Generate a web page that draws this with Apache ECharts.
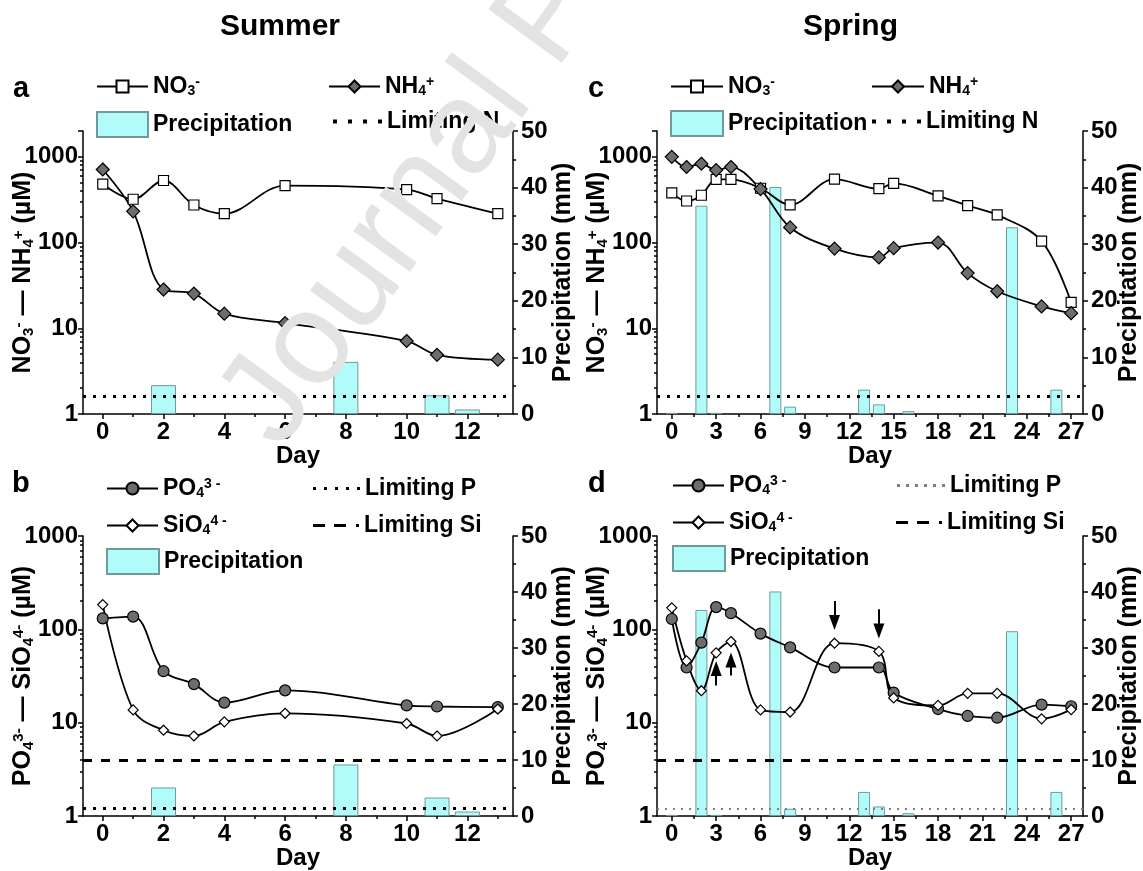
<!DOCTYPE html>
<html>
<head>
<meta charset="utf-8">
<script src="https://cdn.jsdelivr.net/npm/echarts@6/dist/echarts.min.js"></script>
<style>
  html, body { margin: 0; background: #fff; }
  #chart { width: 1143px; height: 871px; }
</style>
</head>
<body>
<div id="chart"></div>
<script>
// ---- data ----
// Summer campaign (panels a, b)
const SUMMER_DAYS = [0, 1, 2, 3, 4, 6, 10, 11, 13];
const SUMMER_NO3  = [479, 320, 529, 274, 217, 462, 415, 326, 217];
const SUMMER_NH4  = [711, 231, 28.3, 25.4, 14.8, 11.5, 7.1, 4.9, 4.3];
const SUMMER_PO4  = [131, 137, 35.6, 25.9, 16.4, 22.2, 15.3, 14.9, 14.7];
const SUMMER_SIO4 = [184, 13.7, 8.3, 7.2, 10.2, 12.6, 9.8, 7.2, 14.0];
const SUMMER_RAIN_DAYS = [2, 8, 11, 12];
const SUMMER_RAIN      = [5.1, 9.2, 3.3, 0.8];

// Spring campaign (panels c, d)
const SPRING_DAYS = [0, 1, 2, 3, 4, 6, 8, 11, 14, 15, 18, 20, 22, 25, 27];
const SPRING_NO3  = [380, 305, 356, 546, 545, 430, 275, 550, 425, 490, 350, 270, 210, 104, 20];
const SPRING_NH4  = [1000, 760, 830, 700, 760, 420, 150, 85, 67, 86, 100, 44, 27, 18, 15];
const SPRING_PO4  = [129, 39, 72, 173, 149, 90, 64, 39, 39, 21, 14, 11.8, 11.3, 15.6, 15];
const SPRING_SIO4 = [170, 46, 22, 56, 74, 13.7, 13, 71, 58, 18.4, 15.3, 20.6, 20.6, 11, 13.8];
const SPRING_RAIN_DAYS = [0, 2, 3, 7, 8, 13, 14, 16, 23, 26];
const SPRING_RAIN      = [0.2, 36.8, 0.2, 40.1, 1.3, 4.3, 1.7, 0.5, 33, 4.3];

// limiting concentrations (µM)
const LIMIT_N = 1.6;
const LIMIT_P = 1.2;
const LIMIT_SI = 4.0;

// arrows in panel d: day, tail value, head value (µM)
const ARROW_DAYS  = [3, 4, 11, 14];
const ARROW_TAILS = [25, 32, 201, 164];
const ARROW_HEADS = [38, 47, 118, 96];

// tick values
const SUMMER_TICKS = [0, 2, 4, 6, 8, 10, 12];
const SUMMER_MINOR = [1, 3, 5, 7, 9, 11, 13];
const SPRING_TICKS = [0, 3, 6, 9, 12, 15, 18, 21, 24, 27];
const SPRING_MINOR = [1.5, 4.5, 7.5, 10.5, 13.5, 16.5, 19.5, 22.5, 25.5];
const LOG_LABELS = [1, 10, 100, 1000];
const LOG_MINOR = [2, 3, 4, 5, 6, 7, 8, 9, 20, 30, 40, 50, 60, 70, 80, 90,
                   200, 300, 400, 500, 600, 700, 800, 900, 2000];

// ---- styling ----
const FONT = '"Liberation Sans", Arial, Helvetica, sans-serif';
const CYAN = '#b2fbfb';
const CYAN_EDGE = '#6f9a9a';
const GREY = '#6d6d6d';
const AXIS = { color: '#000', width: 1.5 };

const txt = size => ({ fontFamily: FONT, fontWeight: 'bold', fontSize: size, color: '#000' });
const rich = size => ({
    b:   txt(size),
    sub: Object.assign(txt(Math.round(size * 0.6)), { verticalAlign: 'bottom' }),
    sup: Object.assign(txt(Math.round(size * 0.6)), { verticalAlign: 'top' }),
});

const N_NAME   = '{b|NO}{sub|3}{sup|-}{b| — NH}{sub|4}{sup|+}{b| (µM)}';
const PSI_NAME = '{b|PO}{sub|4}{sup|3-}{b| — SiO}{sub|4}{sup|4-}{b| (µM)}';

const LABELS = {
    'NO3 a': '{b|NO}{sub|3}{sup|-}', 'NH4 a': '{b|NH}{sub|4}{sup|+}',
    'Rain a': '{b|Precipitation}', 'LimN a': '{b|Limiting N}',
    'PO4 b': '{b|PO}{sub|4}{sup|3 -}', 'SiO4 b': '{b|SiO}{sub|4}{sup|4 -}',
    'Rain b': '{b|Precipitation}', 'LimP b': '{b|Limiting P}', 'LimSi b': '{b|Limiting Si}',
    'NO3 c': '{b|NO}{sub|3}{sup|-}', 'NH4 c': '{b|NH}{sub|4}{sup|+}',
    'Rain c': '{b|Precipitation}', 'LimN c': '{b|Limiting N}',
    'PO4 d': '{b|PO}{sub|4}{sup|3 -}', 'SiO4 d': '{b|SiO}{sub|4}{sup|4 -}',
    'Rain d': '{b|Precipitation}', 'LimP d': '{b|Limiting P}', 'LimSi d': '{b|Limiting Si}',
};

// dotted / dashed legend keys
const DOTS4  = 'path://M0,0h4v4h-4zM15,0h4v4h-4zM30,0h4v4h-4zM45,0h4v4h-4z';
const DOTS5  = 'path://M0,0h3v3h-3zM11,0h3v3h-3zM22,0h3v3h-3zM33,0h3v3h-3zM44,0h3v3h-3z';
const DOTS6  = 'path://M0,0h3v3h-3zM9,0h3v3h-3zM18,0h3v3h-3zM27,0h3v3h-3zM36,0h3v3h-3zM45,0h3v3h-3z';
const DASHES = 'path://M0,0h12v3h-12zM21,0h12v3h-12zM43,0h3v3h-3z';

const PANELS = [
    { grid: { left: 83,  top: 131, width: 430, height: 283 }, xr: [-0.65, 13.5], ticks: SUMMER_TICKS, minor: SUMMER_MINOR, ymax: 2000, name: N_NAME,   rgap: 38 },
    { grid: { left: 83,  top: 536, width: 430, height: 283 }, xr: [-0.65, 13.5], ticks: SUMMER_TICKS, minor: SUMMER_MINOR, ymax: 1000, name: PSI_NAME, rgap: 38 },
    { grid: { left: 657, top: 131, width: 426, height: 283 }, xr: [-1, 27.8],    ticks: SPRING_TICKS, minor: SPRING_MINOR, ymax: 2000, name: N_NAME,   rgap: 34 },
    { grid: { left: 657, top: 536, width: 426, height: 283 }, xr: [-1, 27.8],    ticks: SPRING_TICKS, minor: SPRING_MINOR, ymax: 1000, name: PSI_NAME, rgap: 34 },
];

// ---- axes ----
const xAxis = [], yAxis = [];
PANELS.forEach((p, i) => {
    xAxis[i] = {
        type: 'value', gridIndex: i, min: p.xr[0], max: p.xr[1], position: 'bottom',
        axisLine: { onZero: false, lineStyle: AXIS },
        axisTick: { customValues: p.ticks, length: 5, lineStyle: AXIS },
        axisLabel: { customValues: p.ticks, margin: 6, ...txt(24) },
        splitLine: { show: false },
        name: 'Day', nameLocation: 'middle', nameGap: 30, nameMoveOverlap: false, nameTextStyle: txt(24),
    };
    // minor ticks between the labelled days
    xAxis[4 + i] = {
        type: 'value', gridIndex: i, min: p.xr[0], max: p.xr[1], position: 'bottom',
        axisLine: { show: false, onZero: false },
        axisTick: { customValues: p.minor, length: 3, lineStyle: AXIS },
        axisLabel: { show: false }, splitLine: { show: false },
    };
    yAxis[i] = {
        type: 'log', logBase: 10, gridIndex: i, min: 1, max: p.ymax, position: 'left',
        axisLine: { show: true, onZero: false, lineStyle: AXIS },
        axisTick: { show: true, length: 5, lineStyle: AXIS },
        axisLabel: {
            margin: 5, ...txt(24),
            formatter: v => LOG_LABELS.find(l => Math.abs(l - v) < 1e-6) ? String(Math.round(v)) : '',
        },
        splitLine: { show: false },
        name: p.name, nameLocation: 'middle', nameGap: 47, nameMoveOverlap: false,
        nameTextStyle: { ...txt(25), rich: rich(25) },
    };
    yAxis[4 + i] = {
        type: 'value', gridIndex: i, min: 0, max: 50, interval: 10, position: 'right',
        axisLine: { show: true, onZero: false, lineStyle: AXIS },
        axisTick: { show: true, length: 5, lineStyle: AXIS },
        minorTick: { show: true, splitNumber: 2, length: 3, lineStyle: AXIS },
        axisLabel: { margin: 8, ...txt(24) },
        splitLine: { show: false },
        name: 'Precipitation (mm)', nameLocation: 'middle', nameGap: p.rgap, nameMoveOverlap: false,
        nameTextStyle: txt(25),
    };
    // 2..9 minor ticks of each decade on the log axis
    yAxis[8 + i] = {
        type: 'value', gridIndex: i, min: 0, max: Math.log10(p.ymax), position: 'left',
        axisLine: { show: false, onZero: false },
        axisTick: { customValues: LOG_MINOR.filter(v => v <= p.ymax).map(Math.log10), length: 3, lineStyle: AXIS },
        axisLabel: { show: false }, splitLine: { show: false },
    };
});

// ---- series ----
const pairs = (days, vals) => days.map((d, k) => [d, vals[k]]);

function curve(name, i, days, vals, symbol, size, fill) {
    return {
        type: 'line', name, xAxisIndex: i, yAxisIndex: i, data: pairs(days, vals),
        smooth: 0.35, symbol, symbolSize: size, showAllSymbol: true, z: 6,
        lineStyle: { color: '#000', width: 1.8 },
        itemStyle: { color: fill, borderColor: '#000', borderWidth: 1.2 },
    };
}
function rain(name, i, days, vals, width) {
    return {
        type: 'bar', name, xAxisIndex: i, yAxisIndex: 4 + i, data: pairs(days, vals),
        barWidth: width, z: 2,
        itemStyle: { color: CYAN, borderColor: CYAN_EDGE, borderWidth: 1 },
    };
}
function limit(name, i, value, color, width, dash) {
    return {
        type: 'line', name, xAxisIndex: i, yAxisIndex: i, data: [], symbol: 'none', z: 4,
        itemStyle: { color }, lineStyle: { color, width, type: dash },
        markLine: {
            silent: true, symbol: 'none', label: { show: false }, animation: false,
            lineStyle: { color, width, type: dash, cap: 'butt' },
            data: [{ yAxis: value }],
        },
    };
}

const series = [
    curve('NO3 a', 0, SUMMER_DAYS, SUMMER_NO3, 'rect', 10, '#fff'),
    curve('NH4 a', 0, SUMMER_DAYS, SUMMER_NH4, 'diamond', 13, GREY),
    rain('Rain a', 0, SUMMER_RAIN_DAYS, SUMMER_RAIN, 25),
    limit('LimN a', 0, LIMIT_N, '#000', 3, [3, 7]),

    curve('PO4 b', 1, SUMMER_DAYS, SUMMER_PO4, 'circle', 11, GREY),
    curve('SiO4 b', 1, SUMMER_DAYS, SUMMER_SIO4, 'diamond', 10, '#fff'),
    rain('Rain b', 1, SUMMER_RAIN_DAYS, SUMMER_RAIN, 25),
    limit('LimP b', 1, LIMIT_P, '#000', 3, [3, 7]),
    limit('LimSi b', 1, LIMIT_SI, '#000', 3, [9, 9]),

    curve('NO3 c', 2, SPRING_DAYS, SPRING_NO3, 'rect', 10, '#fff'),
    curve('NH4 c', 2, SPRING_DAYS, SPRING_NH4, 'diamond', 13, GREY),
    rain('Rain c', 2, SPRING_RAIN_DAYS, SPRING_RAIN, 12),
    limit('LimN c', 2, LIMIT_N, '#000', 3, [3, 7]),

    curve('PO4 d', 3, SPRING_DAYS, SPRING_PO4, 'circle', 11, GREY),
    curve('SiO4 d', 3, SPRING_DAYS, SPRING_SIO4, 'diamond', 10, '#fff'),
    rain('Rain d', 3, SPRING_RAIN_DAYS, SPRING_RAIN, 12),
    limit('LimP d', 3, LIMIT_P, '#808080', 2, [2, 6]),
    limit('LimSi d', 3, LIMIT_SI, '#000', 3, [9, 9]),
    {
        type: 'line', name: 'arrows', xAxisIndex: 3, yAxisIndex: 3, data: [], z: 7,
        markLine: {
            silent: true, symbol: ['none', 'triangle'], symbolSize: [11, 15],
            label: { show: false }, animation: false,
            lineStyle: { color: '#000', width: 2, type: 'solid' },
            data: ARROW_DAYS.map((d, k) => [{ coord: [d, ARROW_TAILS[k]] }, { coord: [d, ARROW_HEADS[k]] }]),
        },
    },
];

// ---- legends: one per key so each sits where the figure has it ----
function key(name, left, top, icon, w, h) {
    const l = {
        data: [name], left, top, padding: 0, itemWidth: w, itemHeight: h,
        selectedMode: false, formatter: n => LABELS[n],
        textStyle: { ...txt(23), rich: rich(23) },
    };
    if (icon) l.icon = icon;
    return l;
}
const legend = [
    key('NO3 a', 96, 75, null, 51, 15),
    key('NH4 a', 328, 75, null, 51, 15),
    key('Rain a', 96, 111, 'rect', 51, 25),
    key('LimN a', 333, 110, DOTS4, 49, 4),

    key('PO4 b', 106, 477, null, 51, 15),
    key('LimP b', 313, 477, DOTS5, 47, 3),
    key('SiO4 b', 106, 514, null, 51, 15),
    key('LimSi b', 313, 514, DASHES, 46, 3),
    key('Rain b', 106, 548, 'rect', 52, 25),

    key('NO3 c', 670, 75, null, 52, 15),
    key('NH4 c', 871, 75, null, 52, 15),
    key('Rain c', 670, 110, 'rect', 52, 25),
    key('LimN c', 872, 110, DOTS4, 49, 4),

    key('PO4 d', 672, 474, null, 51, 15),
    key('LimP d', 897, 474, DOTS6, 48, 3),
    key('SiO4 d', 672, 511, null, 51, 15),
    key('LimSi d', 896, 511, DASHES, 46, 3),
    key('Rain d', 672, 545, 'rect', 52, 25),
];

const title = [
    { text: 'Summer', left: 220, top: 12, padding: 0, textStyle: txt(30) },
    { text: 'Spring', left: 803, top: 12, padding: 0, textStyle: txt(30) },
    { text: 'a', left: 13, top: 74, padding: 0, textStyle: txt(29) },
    { text: 'b', left: 12, top: 469, padding: 0, textStyle: txt(29) },
    { text: 'c', left: 588, top: 74, padding: 0, textStyle: txt(29) },
    { text: 'd', left: 588, top: 469, padding: 0, textStyle: txt(29) },
];

const chart = echarts.init(document.getElementById('chart'));
chart.setOption({
    backgroundColor: '#fff',
    animation: false,
    title, legend,
    grid: PANELS.map(p => p.grid),
    xAxis, yAxis, series,
    graphic: [{
        type: 'text', x: 250, y: 430, rotation: 54 * Math.PI / 180, z: 100, silent: true,
        style: {
            text: 'Journal Pre-proof', fill: '#e3e3e3',
            font: '132px "Liberation Sans", Arial, sans-serif',
            align: 'left', verticalAlign: 'middle',
        },
    }],
});
window.addEventListener('resize', () => chart.resize());
</script>
</body>
</html>
